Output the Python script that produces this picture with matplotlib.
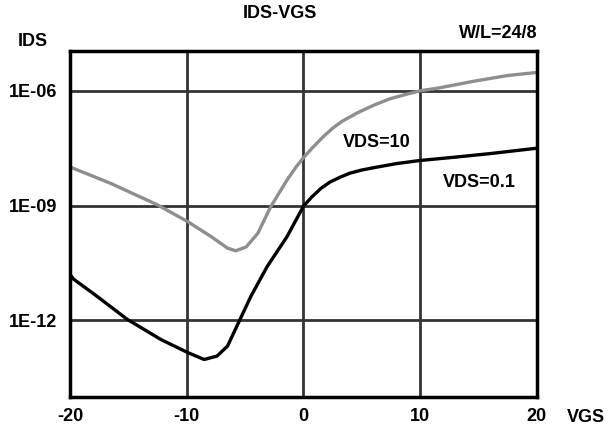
import numpy as np
from matplotlib import pyplot as plt
from matplotlib.ticker import NullLocator

# values (VGS in V, log10 of IDS in A)
vgs_10 = [-20, -16.5, -12.5, -9.9, -7.9, -6.5, -5.8, -4.9, -3.9, -2.8, -1.4, -0.6,
          0, 0.8, 1.7, 2.5, 3.3, 4.6, 6.0, 7.4, 8.7, 10, 11.7, 14.6, 17.5, 20]
log_ids_10 = [-7.99, -8.42, -8.98, -9.42, -9.81, -10.11, -10.18, -10.08, -9.72, -9.03, -8.33, -7.98,
              -7.75, -7.48, -7.2, -6.98, -6.8, -6.58, -6.38, -6.21, -6.1, -6.0, -5.92, -5.75,
              -5.6, -5.52]

vgs_01 = [-20, -19.7, -17.9, -15.1, -12.2, -9.9, -8.5, -7.4, -6.5, -5.7, -4.5, -3.1, -1.4,
          0, 0.7, 1.5, 2.3, 3.2, 4.0, 5.0, 6.0, 8.0, 10, 13.1, 16, 20]
log_ids_01 = [-10.8, -10.92, -11.32, -11.97, -12.5, -12.84, -13.02, -12.93, -12.67, -12.15, -11.37,
              -10.59, -9.81, -9.02, -8.78, -8.55, -8.38, -8.25, -8.15, -8.07, -8.01, -7.9, -7.82,
              -7.73, -7.64, -7.5]

xticks = [-20, -10, 0, 10, 20]
yticks = [1e-12, 1e-9, 1e-6]
ytick_labels = ['1E-12', '1E-09', '1E-06']

plt.rcParams['font.family'] = 'Liberation Sans'
plt.rcParams['font.weight'] = 'bold'
plt.rcParams['font.size'] = 13
plt.rcParams['axes.unicode_minus'] = False

fig = plt.figure(figsize=(6.1, 4.38), dpi=100)
ax = fig.add_axes([0.1148, 0.0936, 0.765, 0.79])

ax.plot(vgs_10, 10 ** np.array(log_ids_10), color='#8e8e8e', lw=2.4, solid_joinstyle='round')
ax.plot(vgs_01, 10 ** np.array(log_ids_01), color='black', lw=2.4, solid_joinstyle='round')

ax.set_yscale('log')
ax.set_xlim(-20, 20)
ax.set_ylim(1e-14, 1.1e-5)
ax.set_xticks(xticks)
ax.set_yticks(yticks)
ax.set_yticklabels(ytick_labels)
ax.yaxis.set_minor_locator(NullLocator())
ax.tick_params(length=0, pad=8)
ax.tick_params(axis='y', pad=9)
ax.grid(True, color='#333333', lw=2)
for s in ax.spines.values():
    s.set_linewidth(2.5)
    s.set_color('black')
    s.set_zorder(5)

ax.text(6.25, 10 ** -7.34, 'VDS=10', ha='center', va='center')
ax.text(15.1, 10 ** -8.39, 'VDS=0.1', ha='center', va='center')

fig.text(280 / 610, 1 - 13 / 438, 'IDS-VGS', ha='center', va='center')
fig.text(537 / 610, 1 - 33 / 438, 'W/L=24/8', ha='right', va='center')
fig.text(33 / 610, 1 - 42 / 438, 'IDS', ha='center', va='center')
fig.text(586 / 610, 1 - 417 / 438, 'VGS', ha='center', va='center')

fig.savefig('out.png', dpi=100)
